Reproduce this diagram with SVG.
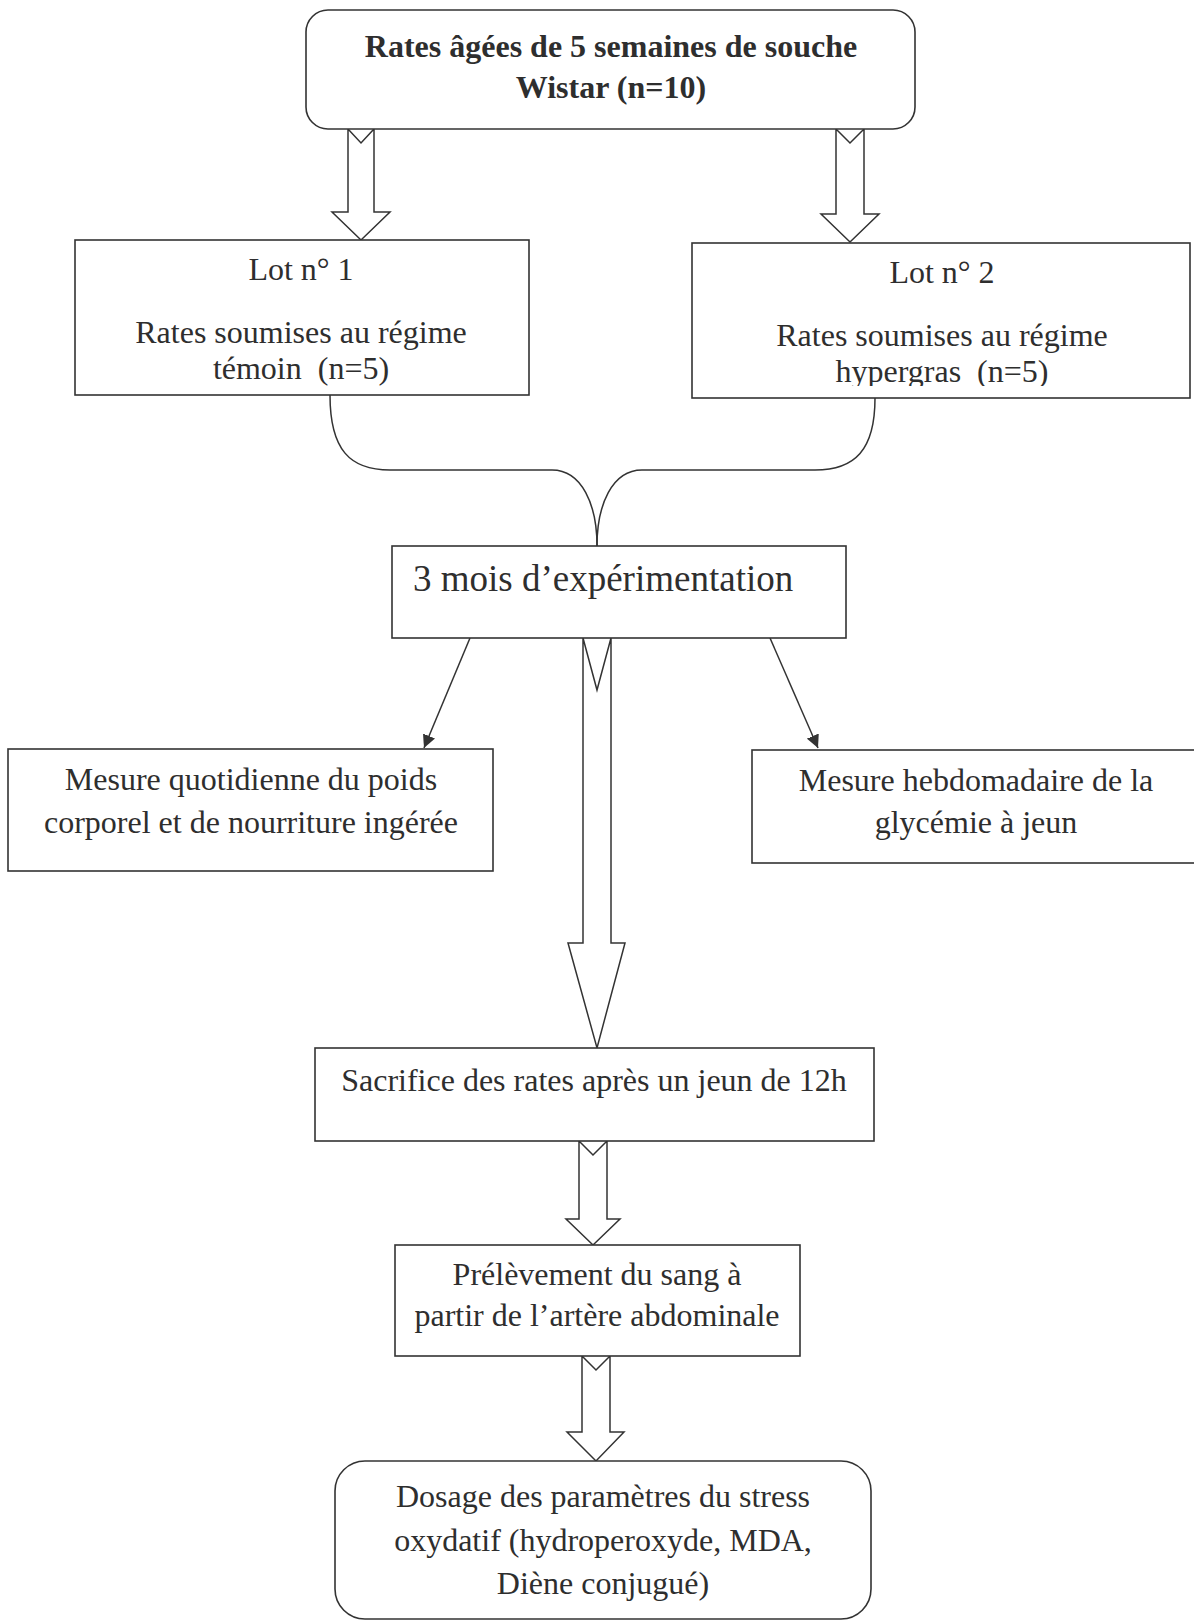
<svg xmlns="http://www.w3.org/2000/svg" width="1194" height="1621" viewBox="0 0 1194 1621">
<style>
.box{fill:#fff;stroke:#333;stroke-width:1.6}
.t{font-family:"Liberation Serif","Times New Roman",serif;font-size:32px;fill:#2e2e2e;text-anchor:middle;white-space:pre}
.b{font-weight:bold}
.conn{fill:none;stroke:#333;stroke-width:1.5}
.hollow{fill:#fff;stroke:#333;stroke-width:1.5;stroke-linejoin:miter}
</style>
<defs>
<marker id="ah" viewBox="0 0 10 10" refX="10" refY="5" markerWidth="13" markerHeight="13" markerUnits="userSpaceOnUse" orient="auto">
<path d="M0,0 L10,5 L0,10 Z" fill="#333"/>
</marker>
<clipPath id="clipLot2"><rect x="692" y="243" width="502" height="143"/></clipPath>
</defs>
<rect width="1194" height="1621" fill="#fff"/>

<g id="connectors">
<path class="hollow" d="M348,129 L361,143 L374,129 L374,212 L390,212 L361,240 L332,212 L348,212 Z"/>
<path class="hollow" d="M836,129 L850,143 L864,129 L864,214 L879,214 L850,242 L821,214 L836,214 Z"/>
<path class="conn" d="M330,395 C330,450 350,470 390,470 L552,470 C582,470 597,505 597,546"/>
<path class="conn" d="M875,398 C875,450 855,470 815,470 L642,470 C612,470 597,505 597,546"/>
<line class="conn" x1="470" y1="638" x2="424" y2="748" marker-end="url(#ah)"/>
<line class="conn" x1="770" y1="638" x2="818" y2="748" marker-end="url(#ah)"/>
<path class="hollow" d="M583,638 L597,690 L611,638 L611,943 L625,943 L597,1048 L568,943 L583,943 Z"/>
<path class="hollow" d="M579,1141 L593,1155 L607,1141 L607,1219 L620,1219 L593,1245 L566,1219 L579,1219 Z"/>
<path class="hollow" d="M582,1356 L596,1370 L610,1356 L610,1432 L624,1432 L596,1461 L567,1432 L582,1432 Z"/>
</g>

<g id="node-start">
<rect class="box" x="306" y="10" width="609" height="119" rx="22"/>
<text class="t b" x="611" y="57">Rates âgées de 5 semaines de souche</text>
<text class="t b" x="611" y="98">Wistar (n=10)</text>
</g>

<g id="node-lot1">
<rect class="box" x="75" y="240" width="454" height="155"/>
<text class="t" x="301" y="280">Lot n° 1</text>
<text class="t" x="301" y="343">Rates soumises au régime</text>
<text class="t" x="301" y="379">témoin  (n=5)</text>
</g>

<g id="node-lot2">
<rect class="box" x="692" y="243" width="498" height="155"/>
<text class="t" x="942" y="283">Lot n° 2</text>
<text class="t" x="942" y="346">Rates soumises au régime</text>
<text class="t" x="942" y="382" clip-path="url(#clipLot2)">hypergras  (n=5)</text>
</g>

<g id="node-experimentation">
<rect class="box" x="392" y="546" width="454" height="92"/>
<text class="t" x="413" y="591" style="font-size:37px;text-anchor:start">3 mois d’expérimentation</text>
</g>

<g id="node-poids">
<rect class="box" x="8" y="749" width="485" height="122"/>
<text class="t" x="251" y="790">Mesure quotidienne du poids</text>
<text class="t" x="251" y="833">corporel et de nourriture ingérée</text>
</g>

<g id="node-glycemie">
<rect class="box" x="752" y="750" width="460" height="113"/>
<text class="t" x="976" y="791">Mesure hebdomadaire de la</text>
<text class="t" x="976" y="833">glycémie à jeun</text>
</g>

<g id="node-sacrifice">
<rect class="box" x="315" y="1048" width="559" height="93"/>
<text class="t" x="594" y="1091">Sacrifice des rates après un jeun de 12h</text>
</g>

<g id="node-prelevement">
<rect class="box" x="395" y="1245" width="405" height="111"/>
<text class="t" x="597" y="1285">Prélèvement du sang à</text>
<text class="t" x="597" y="1326">partir de l’artère abdominale</text>
</g>

<g id="node-dosage">
<rect class="box" x="335" y="1461" width="536" height="158" rx="30"/>
<text class="t" x="603" y="1507">Dosage des paramètres du stress</text>
<text class="t" x="603" y="1551">oxydatif (hydroperoxyde, MDA,</text>
<text class="t" x="603" y="1594">Diène conjugué)</text>
</g>
</svg>
